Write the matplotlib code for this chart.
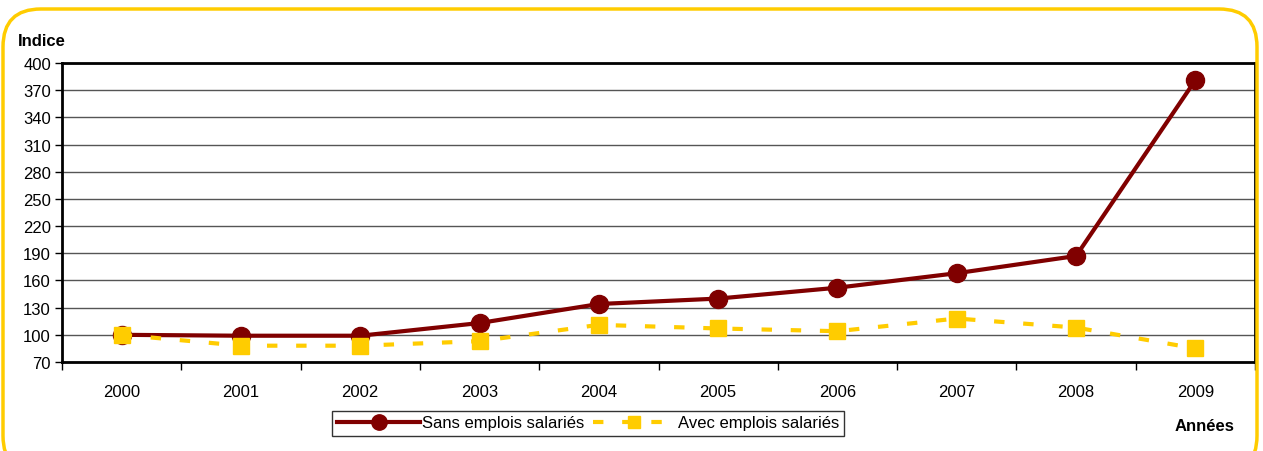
import matplotlib.pyplot as plt
from matplotlib.patches import FancyBboxPatch

plt.rcParams['font.family'] = ['Liberation Sans', 'DejaVu Sans']

annees = ['2000', '2001', '2002', '2003', '2004', '2005', '2006', '2007', '2008', '2009']
sans_emplois = [100, 99, 99, 113, 134, 140, 152, 168, 187, 381]
avec_emplois = [100, 88, 88, 93, 111, 107, 104, 118, 108, 85]
y_ticks = [70, 100, 130, 160, 190, 220, 250, 280, 310, 340, 370, 400]

fig = plt.figure(figsize=(12.63, 4.52), dpi=100)

# cadre jaune arrondi
cadre = FancyBboxPatch((3 / 1263, -0.05), 1254 / 1263, 1 - 10 / 452 + 0.05,
                       boxstyle="round,pad=0,rounding_size=0.03",
                       transform=fig.transFigure, facecolor='none',
                       edgecolor='#FFCC00', linewidth=2.5, mutation_aspect=1263 / 452)
fig.patches.append(cadre)

ax = fig.add_axes([62 / 1263, 1 - 363 / 452, (1255 - 62) / 1263, (363 - 64) / 452])
x = list(range(len(annees)))

ax.plot(x, sans_emplois, color='#800000', lw=3, marker='o', ms=13,
        label='Sans emplois salariés', zorder=3)
ax.plot(x, avec_emplois, color='#FFCC00', lw=3, ls=(0, (2.5, 4.5)), marker='s', ms=11,
        label='Avec emplois salariés', zorder=4)

ax.set_xlim(-0.5, 9.5)
ax.set_ylim(70, 400)
ax.set_yticks(y_ticks)
ax.set_yticklabels([str(v) for v in y_ticks], fontsize=12)
ax.set_xticks([i + 0.5 for i in range(-1, 10)], minor=False)
ax.set_xticklabels([])
ax.set_xticks(x, minor=True)
ax.set_xticklabels(annees, minor=True, fontsize=12)
ax.tick_params(axis='x', which='minor', length=0, pad=16)
ax.tick_params(axis='x', which='major', length=6, width=1, direction='out')
ax.tick_params(axis='y', length=5, width=1, direction='out', pad=3)
ax.grid(axis='y', color='#555555', lw=1)
for s in ax.spines.values():
    s.set_linewidth(2)
ax.set_axisbelow(True)

fig.text(18 / 1263, 1 - 42 / 452, 'Indice', fontsize=12, fontweight='bold', va='center')
fig.text(1205 / 1263, 1 - 427 / 452, 'Années', fontsize=12, fontweight='bold', va='center', ha='center')

leg = fig.legend(loc='center', bbox_to_anchor=(588 / 1263, 1 - 424 / 452), ncol=2,
                 fontsize=12, frameon=True, fancybox=False, edgecolor='black',
                 handlelength=5, columnspacing=0.5, handletextpad=0.1,
                 borderpad=0.3, borderaxespad=0, markerscale=0.85)
leg.get_frame().set_linewidth(1)

fig.savefig('out.png', dpi=100)
